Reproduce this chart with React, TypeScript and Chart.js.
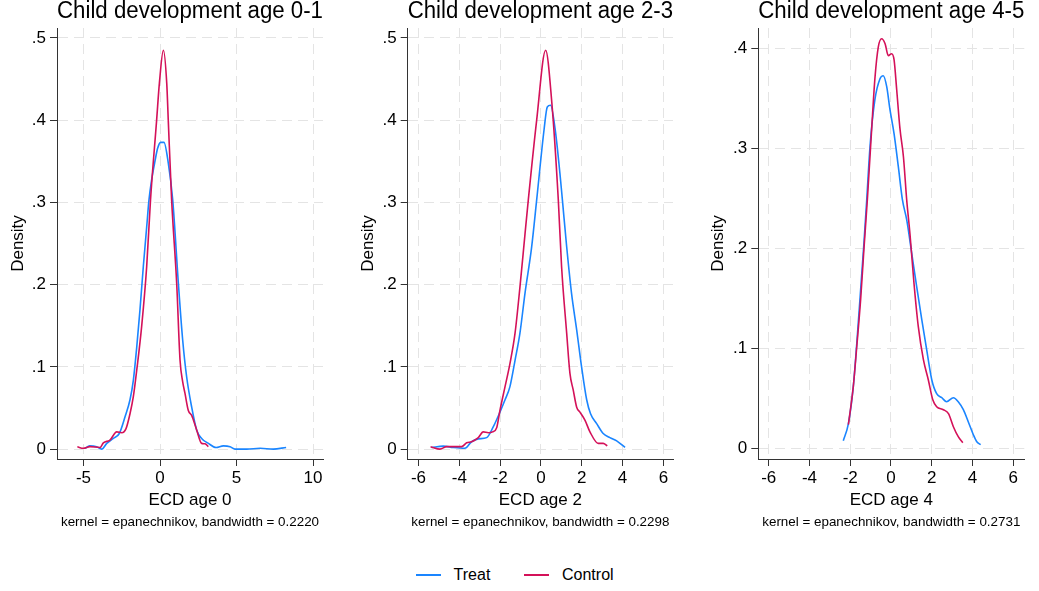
import { useEffect, useRef } from 'react';
import { Chart, registerables } from 'chart.js';

Chart.register(...registerables);

const BLUE = '#1a85ff';
const RED = '#d41159';
const GRID = '#e4e4e4';
const AXIS = '#333333';
const FONT = "'Liberation Sans', Arial, Helvetica, sans-serif";

// ---- text ----
const panelTitles = ['Child development age 0-1', 'Child development age 2-3', 'Child development age 4-5'];
const xTitles = ['ECD age 0', 'ECD age 2', 'ECD age 4'];
const notes = [
  'kernel = epanechnikov, bandwidth = 0.2220',
  'kernel = epanechnikov, bandwidth = 0.2298',
  'kernel = epanechnikov, bandwidth = 0.2731',
];
const seriesNames = ['Treat', 'Control'];
const yTitle = 'Density';

// ---- ticks ----
const xTicks1 = [-5, 0, 5, 10];
const xTicks2 = [-6, -4, -2, 0, 2, 4, 6];
const xTicks3 = [-6, -4, -2, 0, 2, 4, 6];
const yTicks1 = [0, 0.1, 0.2, 0.3, 0.4, 0.5];
const yTicks2 = [0, 0.1, 0.2, 0.3, 0.4, 0.5];
const yTicks3 = [0, 0.1, 0.2, 0.3, 0.4];

// ---- series: age 0-1 ----
const treat1X = [-4.9, -4.6, -4.14, -3.81, -3.48, -3.05, -2.66, -2.29, -1.96, -1.74, -1.52, -1.31, -1.09, -0.87, -0.72, -0.55, -0.33, -0.15, 0.04, 0.26, 0.54, 0.83, 1.2, 1.48, 1.74, 2.07, 2.4, 2.72, 3.16, 3.66, 4.14, 4.58, 4.9, 5.67, 6.54, 7.4, 8.24];
const treat1Y = [0.001, 0.004, 0.003, 0.0, 0.007, 0.013, 0.019, 0.039, 0.06, 0.084, 0.124, 0.169, 0.222, 0.27, 0.303, 0.327, 0.35, 0.366, 0.373, 0.373, 0.348, 0.303, 0.2016, 0.133, 0.088, 0.051, 0.023, 0.013, 0.007, 0.002, 0.004, 0.003, 0.0, 0.0, 0.001, 0.0, 0.002];
const control1X = [-5.4, -5.01, -4.58, -3.92, -3.7, -3.27, -2.83, -2.5, -2.22, -1.96, -1.74, -1.52, -1.2, -0.87, -0.62, -0.22, -0.04, 0.22, 0.44, 0.54, 0.76, 1.09, 1.31, 1.48, 1.63, 1.85, 2.07, 2.4, 2.72, 2.94, 3.16];
const control1Y = [0.0028, 0.001, 0.003, 0.002, 0.0077, 0.011, 0.021, 0.02, 0.025, 0.043, 0.064, 0.096, 0.149, 0.222, 0.303, 0.4, 0.445, 0.485, 0.445, 0.4, 0.303, 0.2016, 0.108, 0.082, 0.068, 0.047, 0.041, 0.023, 0.007, 0.0065, 0.003];

// ---- series: age 2-3 ----
const treat2X = [-5.36, -4.79, -4.3, -3.73, -3.4, -3.07, -2.66, -2.34, -2.01, -1.76, -1.52, -1.27, -1.03, -0.78, -0.46, -0.21, 0.15, 0.31, 0.47, 0.69, 0.93, 1.05, 1.26, 1.5, 1.75, 1.99, 2.24, 2.43, 2.73, 3.05, 3.38, 3.71, 4.12];
const treat2Y = [0.002, 0.0037, 0.002, 0.001, 0.009, 0.0125, 0.014, 0.027, 0.045, 0.06, 0.076, 0.108, 0.141, 0.19, 0.245, 0.303, 0.388, 0.416, 0.418, 0.39, 0.335, 0.303, 0.246, 0.189, 0.145, 0.1, 0.06, 0.043, 0.031, 0.019, 0.014, 0.01, 0.002];
const control2X = [-5.41, -4.95, -4.62, -4.22, -3.89, -3.64, -3.4, -3.07, -2.83, -2.58, -2.37, -2.17, -2.01, -1.76, -1.52, -1.27, -1.03, -0.78, -0.62, -0.21, 0.23, 0.52, 0.85, 1.01, 1.26, 1.42, 1.58, 1.75, 1.91, 2.16, 2.4, 2.81, 3.05, 3.25];
const control2Y = [0.003, 0.0, 0.003, 0.003, 0.003, 0.0077, 0.009, 0.014, 0.021, 0.02, 0.021, 0.026, 0.047, 0.076, 0.104, 0.141, 0.197, 0.262, 0.303, 0.4, 0.485, 0.425, 0.303, 0.222, 0.141, 0.092, 0.072, 0.051, 0.045, 0.035, 0.021, 0.007, 0.007, 0.004];

// ---- series: age 4-5 ----
const treat3X = [-2.34, -2.09, -1.85, -1.68, -1.49, -1.33, -1.19, -1.03, -0.79, -0.54, -0.38, -0.21, -0.05, 0.15, 0.36, 0.56, 0.77, 1.02, 1.26, 1.51, 1.75, 2.0, 2.24, 2.49, 2.73, 3.06, 3.3, 3.55, 3.79, 4.04, 4.21, 4.4];
const treat3Y = [0.008, 0.025, 0.062, 0.105, 0.159, 0.205, 0.249, 0.302, 0.349, 0.37, 0.373, 0.362, 0.339, 0.315, 0.282, 0.249, 0.229, 0.195, 0.162, 0.129, 0.099, 0.069, 0.055, 0.051, 0.047, 0.051, 0.047, 0.039, 0.027, 0.014, 0.007, 0.004];
const control3X = [-2.09, -1.85, -1.68, -1.49, -1.33, -1.16, -0.95, -0.79, -0.62, -0.46, -0.29, -0.13, 0.03, 0.15, 0.28, 0.44, 0.61, 0.77, 0.93, 1.13, 1.34, 1.59, 1.83, 2.05, 2.24, 2.57, 2.82, 3.06, 3.3, 3.52];
const control3Y = [0.024, 0.062, 0.102, 0.149, 0.199, 0.249, 0.319, 0.37, 0.402, 0.41, 0.405, 0.393, 0.395, 0.389, 0.359, 0.32, 0.292, 0.249, 0.215, 0.165, 0.122, 0.089, 0.069, 0.049, 0.042, 0.039, 0.035, 0.022, 0.012, 0.006];

const treatX = [treat1X, treat2X, treat3X];
const treatY = [treat1Y, treat2Y, treat3Y];
const controlX = [control1X, control2X, control3X];
const controlY = [control1Y, control2Y, control3Y];
const xTicks = [xTicks1, xTicks2, xTicks3];
const yTicks = [yTicks1, yTicks2, yTicks3];

// axis ranges
const xRanges = [[-6.73, 10.65], [-6.53, 6.47], [-6.51, 6.54]];
const yRanges = [[-0.012, 0.512], [-0.012, 0.512], [-0.0103, 0.4207]];

// ---- layout (pixels) ----
const H = 540;
const TITLE_H = 28;
const PLOT_H = 431;
const X_H = 51.2;
const NOTE_SIZE = 13.4;
const NOTE_PAD_TOP = 3.76;
const NOTE_PAD_BOTTOM = H - (TITLE_H + PLOT_H + X_H + NOTE_PAD_TOP + NOTE_SIZE * 1.2);
const panelBoxes = [
  { left: 0, width: 346, yW: 57, padR: 23, yTitlePad: 8.1 },
  { left: 346, width: 347, yW: 61.7, padR: 20, yTitlePad: 12.1 },
  { left: 693, width: 346, yW: 65.3, padR: 14.7, yTitlePad: 15.1 },
];

const fmtY = (v: number) => (v === 0 ? '0' : String(v).replace(/^0/, '').replace(/^-0/, '-'));

function toPts(xs: number[], ys: number[]) {
  return xs.map((x, i) => ({ x, y: ys[i] }));
}

function Panel({ idx }: { idx: number }) {
  const ref = useRef<HTMLCanvasElement | null>(null);
  const box = panelBoxes[idx];
  useEffect(() => {
    if (!ref.current) return;
    const chart = new Chart(ref.current, {
      type: 'line',
      data: {
        datasets: [
          {
            label: seriesNames[0],
            data: toPts(treatX[idx], treatY[idx]),
            borderColor: BLUE,
            backgroundColor: BLUE,
            borderWidth: 1.6,
            pointRadius: 0,
            fill: false,
            cubicInterpolationMode: 'monotone',
            order: 1,
          },
          {
            label: seriesNames[1],
            data: toPts(controlX[idx], controlY[idx]),
            borderColor: RED,
            backgroundColor: RED,
            borderWidth: 1.6,
            pointRadius: 0,
            fill: false,
            cubicInterpolationMode: 'monotone',
            order: 0,
          },
        ],
      },
      options: {
        animation: false,
        responsive: false,
        maintainAspectRatio: false,
        events: [],
        layout: { padding: { left: 0, right: box.padR, top: 0, bottom: 0 } },
        plugins: {
          legend: { display: false },
          tooltip: { enabled: false },
          title: {
            display: true,
            text: panelTitles[idx],
            position: 'top',
            fullSize: false,
            color: '#000',
            font: { family: FONT, size: 23, weight: 'normal', lineHeight: 1 },
            padding: { top: 0.5, bottom: TITLE_H - 23.5 },
          },
          subtitle: {
            display: true,
            text: notes[idx],
            position: 'bottom',
            fullSize: false,
            color: '#000',
            font: { family: FONT, size: NOTE_SIZE, weight: 'normal', lineHeight: 1.2 },
            padding: { top: NOTE_PAD_TOP, bottom: NOTE_PAD_BOTTOM },
          },
        },
        scales: {
          x: {
            type: 'linear',
            min: xRanges[idx][0],
            max: xRanges[idx][1],
            afterBuildTicks: (s: any) => {
              s.ticks = xTicks[idx].map((v) => ({ value: v }));
            },
            afterFit: (s: any) => {
              s.height = X_H;
            },
            ticks: {
              color: '#000',
              font: { family: FONT, size: 17, lineHeight: 1.2 },
              padding: 2,
              maxRotation: 0,
              autoSkip: false,
              callback: (v: any) => String(v),
            },
            grid: { color: GRID, lineWidth: 1, tickLength: 7, tickColor: AXIS, tickWidth: 1, drawOnChartArea: true },
            border: { display: true, color: AXIS, width: 1, dash: [10, 6] },
            title: {
              display: true,
              text: xTitles[idx],
              color: '#000',
              font: { family: FONT, size: 17, lineHeight: 1.2 },
              padding: { top: 0, bottom: 0 },
            },
          },
          y: {
            type: 'linear',
            min: yRanges[idx][0],
            max: yRanges[idx][1],
            afterBuildTicks: (s: any) => {
              s.ticks = yTicks[idx].map((v) => ({ value: v }));
            },
            afterFit: (s: any) => {
              s.width = box.yW;
            },
            ticks: {
              color: '#000',
              font: { family: FONT, size: 17, lineHeight: 1.2 },
              padding: 4,
              autoSkip: false,
              callback: (v: any) => fmtY(Number(v)),
            },
            grid: { color: GRID, lineWidth: 1, tickLength: 7, tickColor: AXIS, tickWidth: 1, drawOnChartArea: true },
            border: { display: true, color: AXIS, width: 1, dash: [10, 6] },
            title: {
              display: true,
              text: yTitle,
              color: '#000',
              font: { family: FONT, size: 17, lineHeight: 1.2 },
              padding: { top: box.yTitlePad, bottom: 0 },
            },
          },
        },
      } as any,
    });
    return () => chart.destroy();
  }, [idx]);
  return (
    <canvas
      ref={ref}
      width={box.width}
      height={H}
      style={{ position: 'absolute', left: box.left, top: 0, width: box.width, height: H, display: 'block' }}
    />
  );
}

const legendItems = [
  { name: seriesNames[0], color: BLUE, lineLeft: 416, textLeft: 453.6 },
  { name: seriesNames[1], color: RED, lineLeft: 524, textLeft: 562 },
];

export default function App() {
  return (
    <div
      style={{
        position: 'absolute',
        left: 0,
        top: 0,
        width: 1039,
        height: 591,
        background: '#fff',
        fontFamily: FONT,
        overflow: 'hidden',
      }}
    >
      {panelTitles.map((_, i) => (
        <Panel key={i} idx={i} />
      ))}
      {legendItems.map((it) => (
        <div key={it.name}>
          <div
            style={{ position: 'absolute', left: it.lineLeft, top: 574, width: 25, height: 1.8, background: it.color }}
          />
          <div
            style={{
              position: 'absolute',
              left: it.textLeft,
              top: 565,
              height: 20,
              lineHeight: '20px',
              fontSize: 16,
              color: '#000',
              whiteSpace: 'nowrap',
            }}
          >
            {it.name}
          </div>
        </div>
      ))}
    </div>
  );
}
